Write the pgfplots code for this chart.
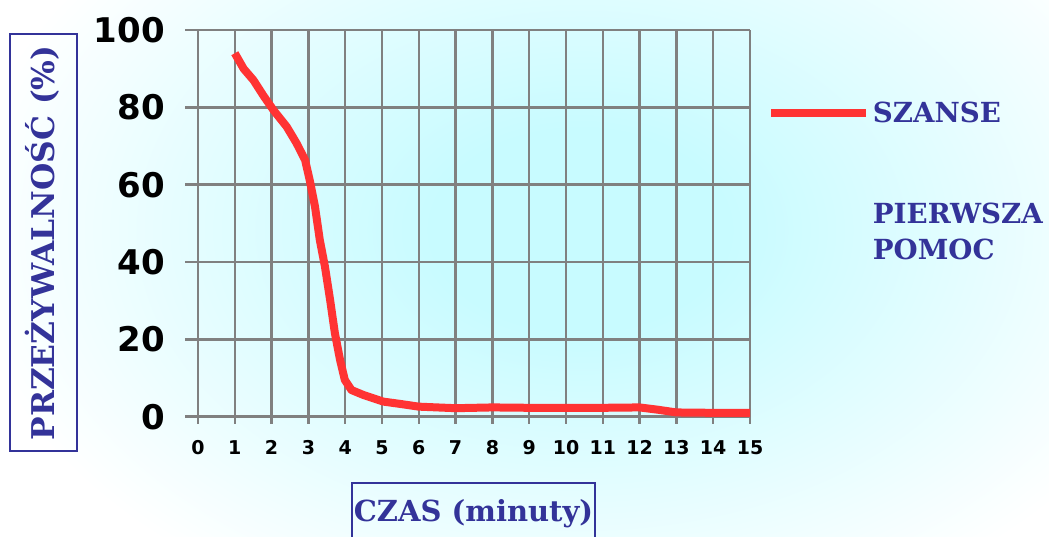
\documentclass[border=0pt]{standalone}
\usepackage{fontspec}
\usepackage{pgfplots}
\pgfplotsset{compat=1.18}
\newfontfamily\sansb{DejaVu Sans}
\newfontfamily\serifb{DejaVu Serif}
\definecolor{navy}{RGB}{51,51,153}
\definecolor{curve}{RGB}{255,51,51}
\definecolor{gridc}{RGB}{128,128,128}
\definecolor{bgc}{RGB}{200,251,255}
\pgfdeclareradialshading{bgshade}{\pgfpoint{0bp}{0bp}}{color(0bp)=(bgc); color(6bp)=(bgc); color(25bp)=(white); color(50bp)=(white)}
\begin{document}
\begin{tikzpicture}
% background
\begin{scope}
\clip (0pt,0pt) rectangle (786.75pt,402pt);
\begin{scope}[x=0.75pt,y=-0.75pt,shift={(0pt,402pt)}]
\shade[shading=bgshade] (-40,-190) rectangle (1200,650);
\end{scope}
\end{scope}
\begin{axis}[
  at={(138.75pt,89.475pt)}, anchor=south west,
  width=423.75pt, height=290pt, scale only axis,
  xmin=-0.353, xmax=15, ymin=0, ymax=100,
  axis line style={draw=none},
  xtick={0,...,15}, ytick={0,20,...,100},
  xtick pos=bottom, ytick pos=left,
  grid=major, grid style={gridc, line width=1.9pt},
  tick align=outside, major tick length=5.25pt,
  xtick style={gridc, line width=1.9pt},
  ytick style={draw=none},
  /pgf/number format/assume math mode=true,
  xticklabel style={font=\fontsize{14.25}{15}\sansb\bfseries, inner sep=0pt, anchor=north, yshift=-12.25pt},
  yticklabel style={font=\fontsize{25.5}{26}\sansb\bfseries, inner sep=0pt, anchor=east, xshift=-9.75pt},
  xlabel={CZAS (minuty)},
  ylabel={PRZEŻYWALNOŚĆ (\%)},
  every axis x label/.style={at={(axis description cs:0.5106,-0.2723)}, anchor=base, font=\fontsize{21.75}{26}\serifb\bfseries, text=navy, inner sep=0pt},
  every axis y label/.style={at={(axis description cs:-0.2301,0.4492)}, anchor=base, rotate=90, font=\fontsize{23.5}{26}\serifb\bfseries, text=navy, inner sep=0pt},
  legend style={at={(axis description cs:1.0230,0.8293)}, anchor=north west, draw=none, fill=none,
    font=\fontsize{20.75}{27}\serifb\bfseries, text=navy, row sep=54.75pt,
    nodes={align=left}},
  legend cell align=left,
  legend image code/.code={\draw[#1] (0pt,0pt) -- (71.25pt,0pt);},
]
\addplot[curve, line width=6pt, line join=round] coordinates {
(1.0,94) (1.24,90) (1.51,87) (1.78,83) (2.05,79.3) (2.41,75) (2.68,70.7) (2.91,66.4)
(3.04,61) (3.18,54.3) (3.31,45.7) (3.45,38.8) (3.59,30.2) (3.72,21.6) (3.86,14.7)
(3.99,9.5) (4.17,6.9) (4.5,5.6) (5.04,3.9) (5.5,3.3) (6,2.6) (7,2.2) (8,2.4) (9,2.3)
(10,2.3) (11,2.3) (12,2.4) (12.5,1.8) (13,1.1) (14,1.0) (15,1.0)};
\addlegendentry{SZANSE}
\addlegendimage{empty legend}
\addlegendentry{PIERWSZA\\POMOC}
\end{axis}
\begin{scope}[x=0.75pt,y=-0.75pt,shift={(0pt,402pt)}]
\draw[navy, line width=1.5pt] (10,34) rectangle (77,451);
\draw[navy, line width=1.5pt] (352,540) -- (352,483) -- (595,483) -- (595,540);
\end{scope}
\pgfresetboundingbox
\path[use as bounding box] (0pt,0pt) rectangle (786.75pt,402pt);
\end{tikzpicture}
\end{document}
